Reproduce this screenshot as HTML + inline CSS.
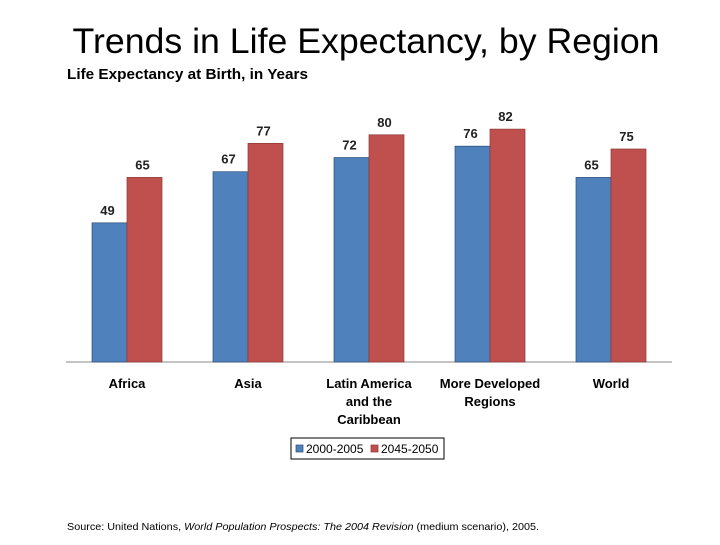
<!DOCTYPE html>
<html><head><meta charset="utf-8"><style>
body{margin:0;background:#fff;width:720px;height:540px;overflow:hidden;font-family:"Liberation Sans",sans-serif}
</style></head><body>
<svg width="720" height="540" xmlns="http://www.w3.org/2000/svg" id="chart">
<text x="366" y="53" text-anchor="middle" font-size="35" textLength="587" lengthAdjust="spacingAndGlyphs" fill="#000">Trends in Life Expectancy, by Region</text>
<text x="67" y="79" font-size="15" font-weight="bold" textLength="241" lengthAdjust="spacingAndGlyphs" fill="#000">Life Expectancy at Birth, in Years</text>
<line x1="66" y1="362" x2="672" y2="362" stroke="#888" stroke-width="1"/>
<g id="bars"></g>
<g>
<rect x="291" y="438" width="153" height="21" fill="#fff" stroke="#000" stroke-width="1"/>
<rect x="296" y="445" width="7" height="7" fill="#4f81bd" stroke="#2c4d75" stroke-width="0.7"/>
<text x="306" y="453" font-size="12">2000-2005</text>
<rect x="371" y="445" width="7" height="7" fill="#c0504d" stroke="#8c3836" stroke-width="0.7"/>
<text x="381" y="453" font-size="12">2045-2050</text>
</g>
<text x="67" y="530" font-size="10.5" textLength="472" lengthAdjust="spacingAndGlyphs">Source: United Nations, <tspan font-style="italic">World Population Prospects: The 2004 Revision</tspan> (medium scenario), 2005.</text>
</svg>
<script>
const categories=[["Africa"],["Asia"],["Latin America","and the","Caribbean"],["More Developed","Regions"],["World"]];
const series2000=[49,67,72,76,65];
const series2045=[65,77,80,82,75];
const NS="http://www.w3.org/2000/svg";
const g=document.getElementById("bars");
const baseY=362, pxPer=2.84, x0=127, step=121, bw=35;
function yScale(v){return baseY-v*pxPer;}
function xCenter(i){return x0+i*step;}
function mk(t,a){const e=document.createElementNS(NS,t);for(const k in a)e.setAttribute(k,a[k]);g.appendChild(e);return e;}
categories.forEach((c,i)=>{
  const cx=xCenter(i);
  [[series2000,-bw,"#4f81bd","#2c4d75","2000"],[series2045,0,"#c0504d","#8c3836","2045"]].forEach(s=>{
    const v=s[0][i],y=yScale(v);
    const r=mk("rect",{x:cx+s[1],y:y,width:bw,height:baseY-y,fill:s[2],stroke:s[3],"stroke-width":0.7});
    
    
    const t=mk("text",{x:cx+s[1]+bw/2-2,y:y-8,"text-anchor":"middle","font-size":13,"font-weight":"bold",fill:"#222"});
    t.textContent=v;
    
    
  });
  c.forEach((line,j)=>{
    const t=mk("text",{x:cx,y:388+j*18,"text-anchor":"middle","font-size":13,"font-weight":"bold",fill:"#000"});
    t.textContent=line;
    
    
  });
});
</script>
</body></html>
